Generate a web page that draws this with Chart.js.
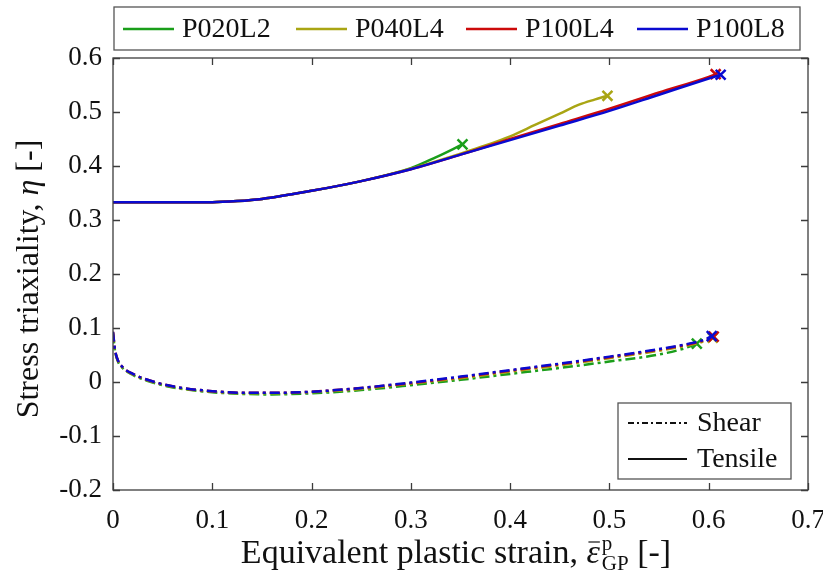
<!DOCTYPE html>
<html>
<head>
<meta charset="utf-8">
<script src="https://cdn.jsdelivr.net/npm/chart.js@4.4.0/dist/chart.umd.min.js"></script>
<style>
  html, body { margin: 0; padding: 0; background: #fff; }
  #wrap { width: 823px; height: 573px; }
</style>
</head>
<body>
<div id="wrap"><canvas id="chart" width="823" height="573"></canvas></div>
<script>
// axis setup
const xRange = [0, 0.7];
const yRange = [-0.2, 0.6];
const tickStep = 0.1;

const seriesNames = ["P020L2", "P040L4", "P100L4", "P100L8"];
const seriesColors = ["#1a9e1a", "#a9a513", "#cc0a0a", "#0a0ad0"];
const loadCases = ["Shear", "Tensile"];

// tensile curves
const tensileX_P020L2 = [0, 0.05, 0.1, 0.125, 0.15, 0.2, 0.25, 0.3, 0.325, 0.352];
const tensileY_P020L2 = [0.333, 0.333, 0.333, 0.335, 0.339, 0.354, 0.372, 0.396, 0.416, 0.440];
const tensileX_P040L4 = [0, 0.05, 0.1, 0.125, 0.15, 0.2, 0.25, 0.3, 0.35, 0.375, 0.4, 0.425, 0.45, 0.47, 0.485, 0.498];
const tensileY_P040L4 = [0.333, 0.333, 0.333, 0.335, 0.339, 0.354, 0.372, 0.395, 0.423, 0.438, 0.455, 0.476, 0.497, 0.514, 0.523, 0.530];
const tensileX_P100L4 = [0, 0.05, 0.1, 0.125, 0.15, 0.2, 0.25, 0.3, 0.35, 0.4, 0.45, 0.5, 0.55, 0.6, 0.607];
const tensileY_P100L4 = [0.333, 0.333, 0.333, 0.335, 0.339, 0.354, 0.372, 0.394, 0.421, 0.450, 0.478, 0.506, 0.536, 0.565, 0.570];
const tensileX_P100L8 = [0, 0.05, 0.1, 0.125, 0.15, 0.2, 0.25, 0.3, 0.35, 0.4, 0.45, 0.5, 0.55, 0.6, 0.612];
const tensileY_P100L8 = [0.333, 0.333, 0.333, 0.335, 0.339, 0.354, 0.372, 0.394, 0.421, 0.448, 0.475, 0.502, 0.532, 0.562, 0.569];

// shear curves
const shearX_P020L2 = [0, 0.002, 0.005, 0.01, 0.02, 0.03, 0.05, 0.07, 0.1, 0.13, 0.16, 0.2, 0.25, 0.3, 0.35, 0.4, 0.45, 0.5, 0.55, 0.575, 0.588];
const shearY_P020L2 = [0.090, 0.058, 0.038, 0.025, 0.013, 0.005, -0.006, -0.013, -0.019, -0.022, -0.023, -0.021, -0.015, -0.006, 0.004, 0.015, 0.026, 0.038, 0.051, 0.062, 0.071];
const shearX_P040L4 = [0, 0.002, 0.005, 0.01, 0.02, 0.03, 0.05, 0.07, 0.1, 0.13, 0.16, 0.2, 0.25, 0.3, 0.35, 0.4, 0.45, 0.5, 0.55, 0.58, 0.595, 0.604];
const shearY_P040L4 = [0.092, 0.059, 0.039, 0.026, 0.014, 0.006, -0.005, -0.012, -0.018, -0.021, -0.021, -0.019, -0.013, -0.003, 0.007, 0.019, 0.031, 0.044, 0.058, 0.068, 0.075, 0.082];
const shearX_P100L4 = [0, 0.002, 0.005, 0.01, 0.02, 0.03, 0.05, 0.07, 0.1, 0.13, 0.16, 0.2, 0.25, 0.3, 0.35, 0.4, 0.45, 0.5, 0.55, 0.58, 0.595, 0.605];
const shearY_P100L4 = [0.093, 0.060, 0.040, 0.027, 0.015, 0.007, -0.004, -0.011, -0.017, -0.020, -0.020, -0.018, -0.011, -0.002, 0.009, 0.021, 0.033, 0.046, 0.060, 0.070, 0.077, 0.084];
const shearX_P100L8 = [0, 0.002, 0.005, 0.01, 0.02, 0.03, 0.05, 0.07, 0.1, 0.13, 0.16, 0.2, 0.25, 0.3, 0.35, 0.4, 0.45, 0.5, 0.55, 0.58, 0.595, 0.603];
const shearY_P100L8 = [0.093, 0.060, 0.040, 0.027, 0.015, 0.007, -0.004, -0.011, -0.017, -0.020, -0.020, -0.018, -0.011, -0.001, 0.010, 0.022, 0.034, 0.047, 0.061, 0.071, 0.078, 0.085];

const tensileXs = [tensileX_P020L2, tensileX_P040L4, tensileX_P100L4, tensileX_P100L8];
const tensileYs = [tensileY_P020L2, tensileY_P040L4, tensileY_P100L4, tensileY_P100L8];
const shearXs = [shearX_P020L2, shearX_P040L4, shearX_P100L4, shearX_P100L8];
const shearYs = [shearY_P020L2, shearY_P040L4, shearY_P100L4, shearY_P100L8];

const SERIF = "'Liberation Serif', 'Times New Roman', serif";
const dashDot = [10, 4, 3, 4];

function pts(xs, ys) {
  return xs.map((x, i) => ({ x: x, y: ys[i] }));
}

function makeSet(name, i, xs, ys, dashed) {
  const n = xs.length;
  return {
    label: name + (dashed ? " shear" : " tensile"),
    data: pts(xs, ys),
    borderColor: seriesColors[i],
    backgroundColor: seriesColors[i],
    borderWidth: 2.5,
    borderDash: dashed ? dashDot : [],
    cubicInterpolationMode: "monotone",
    pointStyle: "crossRot",
    pointRadius: ctx => ctx.dataIndex === n - 1 ? 7 : 0,
    pointBorderWidth: 2.5,
    pointHoverRadius: 0,
    order: 3 - i
  };
}

const datasets = [];
seriesNames.forEach((name, i) => {
  datasets.push(makeSet(name, i, tensileXs[i], tensileYs[i], false));
  datasets.push(makeSet(name, i, shearXs[i], shearYs[i], true));
});

function fmt(v) {
  return String(Math.round(v * 10) / 10);
}

// frame, inward ticks, legends and axis titles
const decor = {
  id: "decor",
  afterDraw(chart) {
    const { ctx, chartArea: a, scales } = chart;
    const xs = scales.x, ys = scales.y;
    ctx.save();

    ctx.strokeStyle = "#3c3c3c";
    ctx.lineWidth = 1.3;
    ctx.strokeRect(a.left, a.top, a.right - a.left, a.bottom - a.top);
    ctx.beginPath();
    xs.ticks.forEach(t => {
      const px = Math.round(xs.getPixelForValue(t.value)) + 0.5;
      ctx.moveTo(px, a.bottom); ctx.lineTo(px, a.bottom - 7);
      ctx.moveTo(px, a.top); ctx.lineTo(px, a.top + 7);
    });
    ys.ticks.forEach(t => {
      const py = Math.round(ys.getPixelForValue(t.value)) + 0.5;
      ctx.moveTo(a.left, py); ctx.lineTo(a.left + 7, py);
      ctx.moveTo(a.right, py); ctx.lineTo(a.right - 7, py);
    });
    ctx.stroke();

    // top legend
    ctx.fillStyle = "#fff";
    ctx.fillRect(114, 7, 686, 43);
    ctx.strokeStyle = "#555";
    ctx.lineWidth = 1.3;
    ctx.strokeRect(114, 7, 686, 43);
    const legX = [123, 296, 466, 637];
    ctx.font = "28px " + SERIF;
    ctx.textBaseline = "middle";
    ctx.textAlign = "left";
    seriesNames.forEach((name, i) => {
      ctx.strokeStyle = seriesColors[i];
      ctx.lineWidth = 2.5;
      ctx.beginPath();
      ctx.moveTo(legX[i], 29); ctx.lineTo(legX[i] + 51, 29);
      ctx.stroke();
      ctx.fillStyle = "#111";
      ctx.fillText(name, legX[i] + 59, 30);
    });

    // load case legend
    ctx.fillStyle = "#fff";
    ctx.fillRect(618, 403, 173, 76);
    ctx.strokeStyle = "#555";
    ctx.lineWidth = 1.3;
    ctx.strokeRect(618, 403, 173, 76);
    loadCases.forEach((name, i) => {
      const ly = 423 + i * 36;
      ctx.strokeStyle = "#111";
      ctx.lineWidth = 2;
      ctx.setLineDash(i === 0 ? [6, 3, 2, 3] : []);
      ctx.beginPath();
      ctx.moveTo(628, ly); ctx.lineTo(687, ly);
      ctx.stroke();
      ctx.setLineDash([]);
      ctx.fillStyle = "#111";
      ctx.fillText(name, 697, ly + 1);
    });

    // y title
    ctx.save();
    ctx.translate(30, 279);
    ctx.rotate(-Math.PI / 2);
    const yParts = [["Stress triaxiality, ", ""], ["\u03b7", "italic "], [" [-]", ""]];
    drawParts(ctx, yParts, 0, 0, 32);
    ctx.restore();

    // x title
    drawXTitle(ctx, 456, 553);

    ctx.restore();
  }
};

function drawParts(ctx, parts, cx, cy, size) {
  let w = 0;
  parts.forEach(p => { ctx.font = p[1] + size + "px " + SERIF; w += ctx.measureText(p[0]).width; });
  let x = cx - w / 2;
  ctx.fillStyle = "#111";
  ctx.textAlign = "left";
  ctx.textBaseline = "middle";
  parts.forEach(p => {
    ctx.font = p[1] + size + "px " + SERIF;
    ctx.fillText(p[0], x, cy);
    x += ctx.measureText(p[0]).width;
  });
}

function drawXTitle(ctx, cx, cy) {
  const big = "34px " + SERIF, eps = "italic 34px " + SERIF, small = "21px " + SERIF;
  const a = "Equivalent plastic strain, ", e = "\u03b5", sup = "p", sub = "GP", tail = " [-]";
  ctx.font = big; const wa = ctx.measureText(a).width, wt = ctx.measureText(tail).width;
  ctx.font = eps; const we = ctx.measureText(e).width;
  ctx.font = small; const ws = Math.max(ctx.measureText(sup).width, ctx.measureText(sub).width);
  let x = cx - (wa + we + ws + 2 + wt) / 2;
  ctx.fillStyle = "#111";
  ctx.textAlign = "left";
  ctx.textBaseline = "alphabetic";
  const base = cy + 10;
  ctx.font = big; ctx.fillText(a, x, base); x += wa;
  ctx.font = eps; ctx.fillText(e, x, base);
  ctx.strokeStyle = "#111"; ctx.lineWidth = 1.2;
  ctx.beginPath(); ctx.moveTo(x + 2, base - 21); ctx.lineTo(x + we, base - 21); ctx.stroke();
  x += we + 2;
  ctx.font = small;
  ctx.fillText(sup, x, base - 13);
  ctx.fillText(sub, x, base + 7);
  x += ws;
  ctx.font = big; ctx.fillText(tail, x, base);
}

new Chart(document.getElementById("chart"), {
  type: "line",
  data: { datasets: datasets },
  options: {
    responsive: false,
    animation: false,
    layout: { padding: { top: 58, right: 15, left: 0, bottom: 0 } },
    plugins: { legend: { display: false }, tooltip: { enabled: false } },
    scales: {
      x: {
        type: "linear",
        min: xRange[0], max: xRange[1],
        grid: { display: false, drawTicks: false },
        border: { display: false },
        ticks: { stepSize: tickStep, padding: 15, color: "#111", font: { family: SERIF, size: 27 }, callback: fmt, maxRotation: 0 },
        afterFit: s => { s.height = 83; s.paddingLeft = 0; s.paddingRight = 0; }
      },
      y: {
        min: yRange[0], max: yRange[1],
        grid: { display: false, drawTicks: false },
        border: { display: false },
        ticks: { stepSize: tickStep, padding: 11, color: "#111", font: { family: SERIF, size: 27 }, callback: fmt },
        afterFit: s => { s.width = 113; s.paddingTop = 0; s.paddingBottom = 0; }
      }
    }
  },
  plugins: [decor]
});
</script>
</body>
</html>
